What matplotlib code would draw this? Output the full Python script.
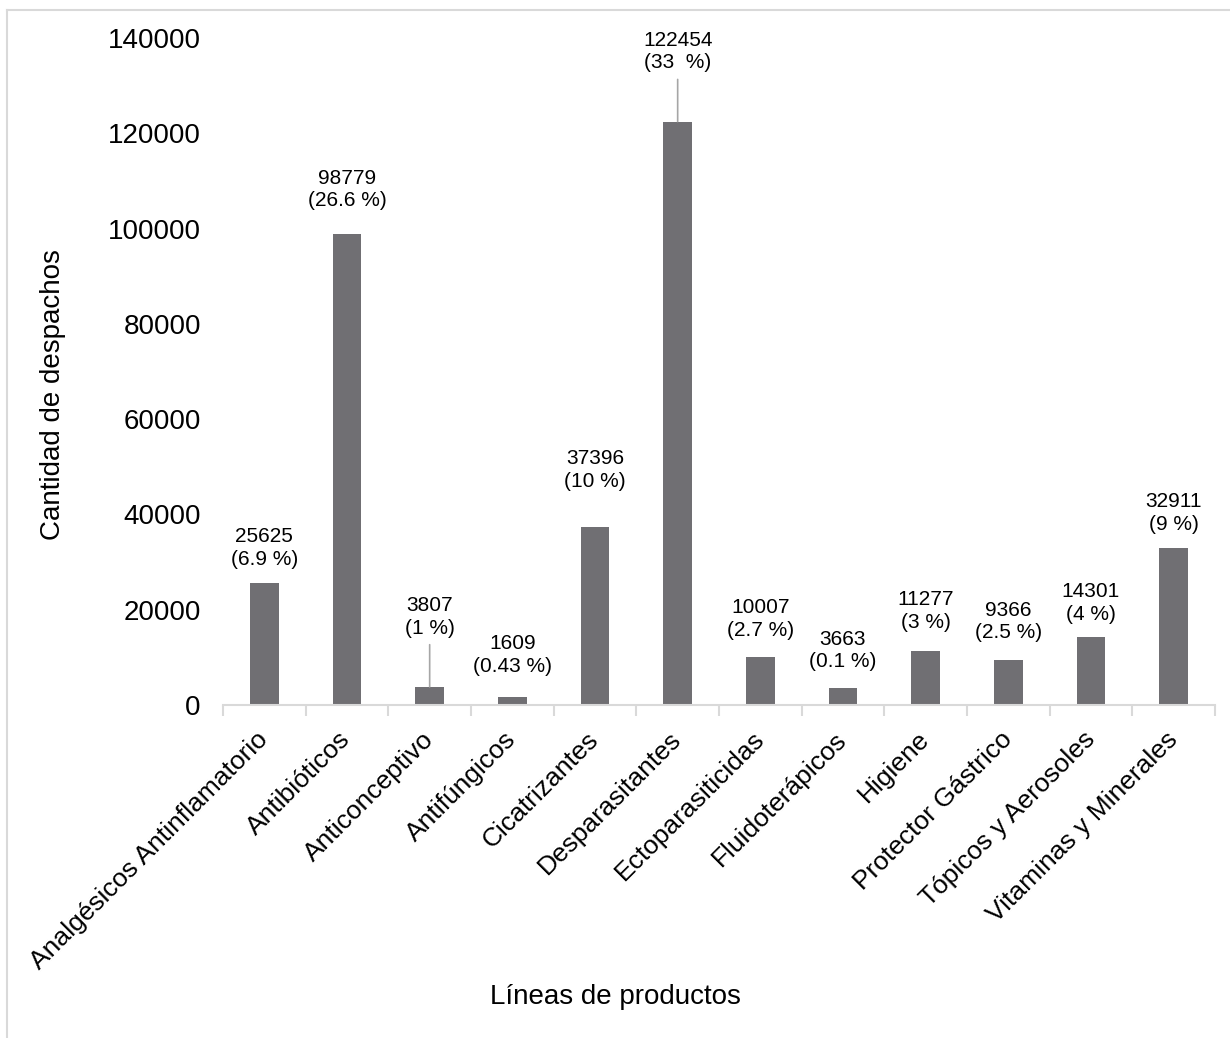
import matplotlib
matplotlib.use("Agg")
import matplotlib.pyplot as plt
from matplotlib.lines import Line2D

plt.rcParams["font.family"] = ["Liberation Sans", "DejaVu Sans"]

categories = [
    "Analgésicos Antinflamatorio", "Antibióticos", "Anticonceptivo", "Antifúngicos",
    "Cicatrizantes", "Desparasitantes", "Ectoparasiticidas", "Fluidoterápicos",
    "Higiene", "Protector Gástrico", "Tópicos y Aerosoles", "Vitaminas y Minerales",
]
despachos = [25625, 98779, 3807, 1609, 37396, 122454, 10007, 3663, 11277, 9366, 14301, 32911]
porcentajes = ["6.9", "26.6", "1", "0.43", "10", "33 ", "2.7", "0.1", "3", "2.5", "4", "9"]
y_ticks = [0, 20000, 40000, 60000, 80000, 100000, 120000, 140000]

# vertical gap (pixels) between bar top and label centre; leader lines where labels were lifted
label_gap = [35, 45, 70, 42, 57, 70, 38, 37, 40, 39, 34, 35]
leader = [False, False, True, False, False, True, False, False, False, False, False, False]

W, H = 1230, 1038
fig = plt.figure(figsize=(W / 100, H / 100), dpi=100)
ax = fig.add_axes([223 / W, 1 - 705 / H, (1215 - 223) / W, (705 - 38) / H])

bar_color = "#706F73"
x = list(range(len(categories)))
ax.bar(x, despachos, width=0.35, color=bar_color)

ax.set_xlim(-0.5, len(categories) - 0.5)
ax.set_ylim(0, 140000)
ax.set_yticks(y_ticks)
ax.set_yticklabels([str(v) for v in y_ticks], fontsize=20, color="#000000")
ax.tick_params(axis="y", length=0, pad=16)

ax.set_xticks(x)
ax.set_xticklabels(categories, rotation=45, ha="right", va="center",
                   rotation_mode="anchor", fontsize=19, color="#000000")
ax.tick_params(axis="x", which="major", length=0, pad=22)
ax.set_xticks([i - 0.5 for i in range(len(categories) + 1)], minor=True)
ax.tick_params(axis="x", which="minor", length=8, width=1.5, color="#D9D9D9")

for side in ["top", "right", "left"]:
    ax.spines[side].set_visible(False)
ax.spines["bottom"].set_color("#D9D9D9")
ax.spines["bottom"].set_linewidth(1.5)

for i, (v, p) in enumerate(zip(despachos, porcentajes)):
    arrow = None
    if leader[i]:
        arrow = dict(arrowstyle="-", color="#A6A6A6", lw=1.2, shrinkA=3, shrinkB=0,
                     relpos=(0.5, 0.0))
    ax.annotate(f"{v}\n({p} %)", xy=(i, v), xytext=(0, label_gap[i]),
                textcoords="offset pixels", ha="center", va="center",
                fontsize=15, linespacing=1.25, color="#000000", arrowprops=arrow)

fig.text(53 / W, 1 - 395 / H, "Cantidad de despachos", rotation=90,
         ha="center", va="center", fontsize=20, color="#000000")
fig.text(615 / W, 1 - 997 / H, "Líneas de productos",
         ha="center", va="center", fontsize=20, color="#000000")

# light frame along the top and left edges
fig.add_artist(Line2D([7 / W, 1], [1 - 9.5 / H, 1 - 9.5 / H], transform=fig.transFigure,
                      color="#D9D9D9", lw=1.5))
fig.add_artist(Line2D([7 / W, 7 / W], [0, 1 - 9.5 / H], transform=fig.transFigure,
                      color="#D9D9D9", lw=1.5))

fig.savefig("out.png", dpi=100)
